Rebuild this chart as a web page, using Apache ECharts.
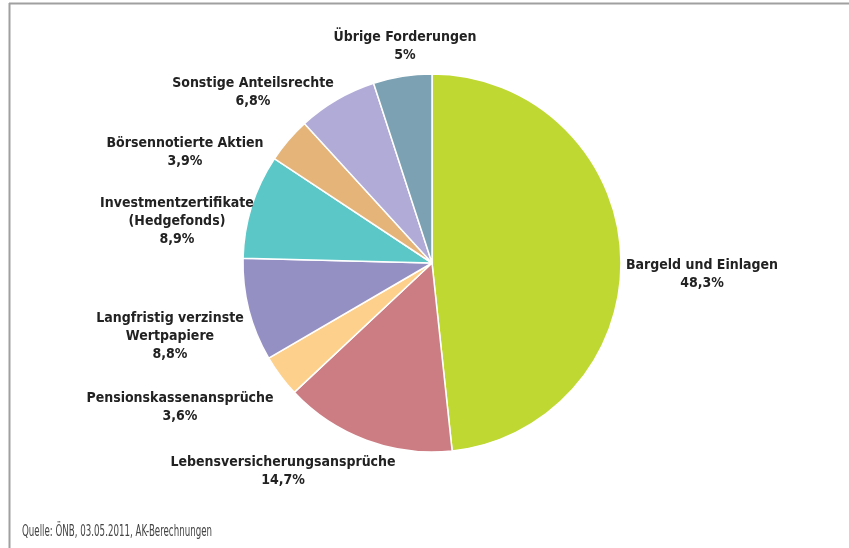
<!DOCTYPE html>
<html><head><meta charset="utf-8">
<script src="https://cdn.jsdelivr.net/npm/echarts@6/dist/echarts.min.js"></script>
<style>html,body{margin:0;padding:0;background:#fff}#c{width:849px;height:548px}</style>
</head><body><div id="c"></div>
<script>
const categories = ["Bargeld und Einlagen","Lebensversicherungsansprüche","Pensionskassenansprüche","Langfristig verzinste\nWertpapiere","Investmentzertifikate\n(Hedgefonds)","Börsennotierte Aktien","Sonstige Anteilsrechte","Übrige Forderungen"];
const values = [48.3, 14.7, 3.6, 8.8, 8.9, 3.9, 6.8, 5];
const valueLabels = ["48,3%","14,7%","3,6%","8,8%","8,9%","3,9%","6,8%","5%"];
const colors = ["#c0d932","#cc7c83","#fdd18c","#9590c4","#5bc7c7","#e5b478","#b1abd7","#7ba1b3"];
const labelAnchors = [[702,274],[283,471],[180,407],[170,336],[177,221],[185,152],[253,92],[405,46]];
const sourceText = 'Quelle: ÖNB, 03.05.2011, AK-Berechnungen';

const font = '"Liberation Sans Narrow","DejaVu Sans Condensed",sans-serif';
const srcFont = '16px "DejaVu Sans Condensed", sans-serif';
const ctx = document.createElement('canvas').getContext('2d');
ctx.font = srcFont;
const srcScale = 190 / ctx.measureText(sourceText).width;

const chart = echarts.init(document.getElementById('c'), null, {renderer:'canvas'});
chart.setOption({
  animation:false,
  backgroundColor:'#fff',
  graphic:[
    {type:'line', shape:{x1:9,y1:3.5,x2:849,y2:3.5}, style:{stroke:'#a0a0a0',lineWidth:2}},
    {type:'line', shape:{x1:9.5,y1:3,x2:9.5,y2:548}, style:{stroke:'#a0a0a0',lineWidth:2}},
    {type:'text', x:22, y:524, scaleX:srcScale, style:{text:sourceText, font:srcFont, fill:'#444'}}
  ],
  series:[{
    type:'pie',
    center:[432,263],
    radius:189,
    startAngle:90,
    clockwise:true,
    data: categories.map((c,i)=>({name:c, value:values[i], itemStyle:{color:colors[i]}})),
    itemStyle:{borderColor:'#fff',borderWidth:1.5},
    label:{
      show:true, position:'outside',
      formatter:p=>p.name+'\n'+valueLabels[p.dataIndex],
      fontFamily:font, fontWeight:'bold', fontSize:14, lineHeight:18, color:'#222', align:'center'
    },
    labelLine:{show:false},
    labelLayout:p=>({x:labelAnchors[p.dataIndex][0], y:labelAnchors[p.dataIndex][1], align:'center', verticalAlign:'middle'}),
    emphasis:{disabled:true}
  }]
});
</script></body></html>
